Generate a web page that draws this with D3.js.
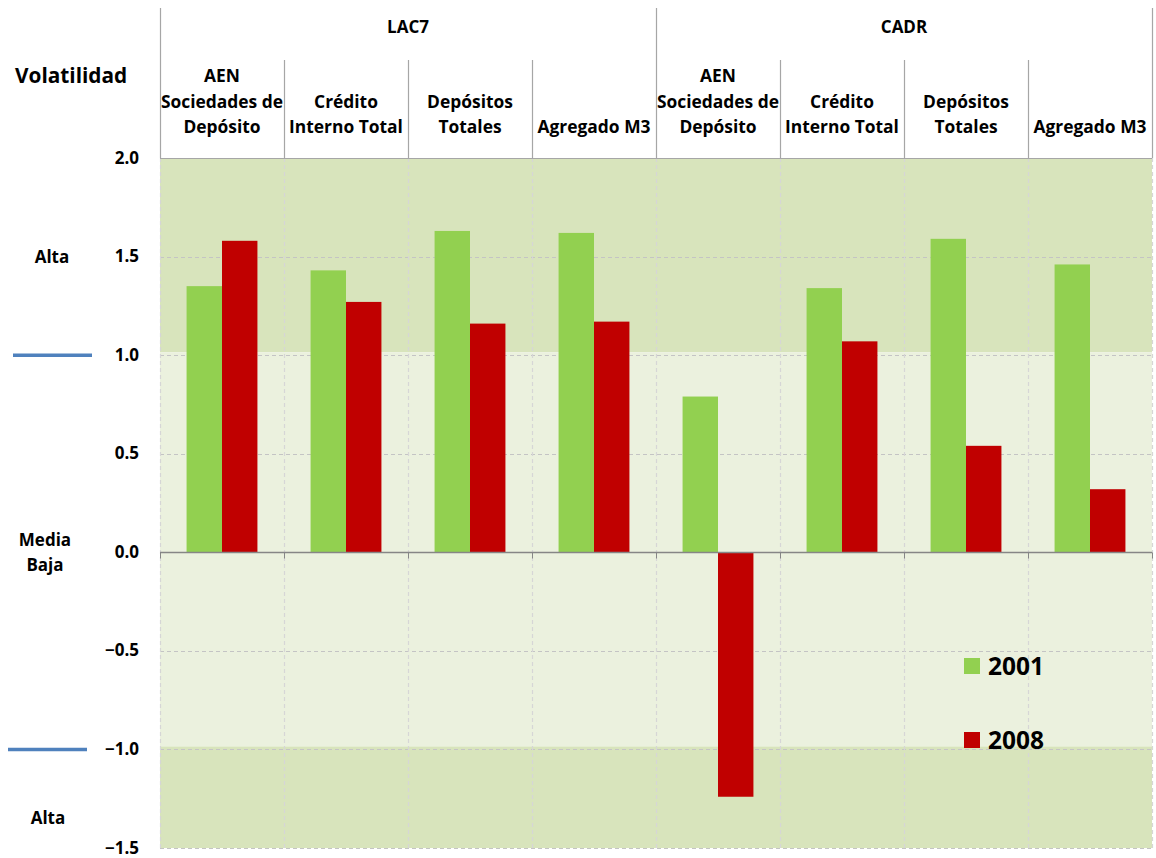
<!DOCTYPE html>
<html>
<head>
<meta charset="utf-8">
<script src="https://cdn.jsdelivr.net/npm/d3@7"></script>
<style>
  html, body { margin: 0; padding: 0; background: #fff; }
  svg { display: block; font-family: "Open Sans", Lato, sans-serif; font-weight: bold; }
</style>
</head>
<body>
<svg id="chart" width="1156" height="858"></svg>
<script>
// Category headers (lines of text) and their groups
const groups = ["LAC7", "CADR"];
const categories = [
  { group: "LAC7", lines: ["AEN", "Sociedades de", "Depósito"] },
  { group: "LAC7", lines: ["Crédito", "Interno Total"] },
  { group: "LAC7", lines: ["Depósitos", "Totales"] },
  { group: "LAC7", lines: ["Agregado M3"] },
  { group: "CADR", lines: ["AEN", "Sociedades de", "Depósito"] },
  { group: "CADR", lines: ["Crédito", "Interno Total"] },
  { group: "CADR", lines: ["Depósitos", "Totales"] },
  { group: "CADR", lines: ["Agregado M3"] }
];
const seriesNames = ["2001", "2008"];
const values2001 = [1.35, 1.43, 1.63, 1.62, 0.79, 1.34, 1.59, 1.46];
const values2008 = [1.58, 1.27, 1.16, 1.17, -1.24, 1.07, 0.54, 0.32];
const yTicks = [2.0, 1.5, 1.0, 0.5, 0.0, -0.5, -1.0, -1.5];
// Volatility zones drawn behind the bars: [from, to, kind]
const zones = [[1.015, 2.0, "alta"], [-0.985, 1.015, "media"], [-1.5, -0.985, "alta"]];
// Labels along the left side
const sideLabels = [
  { lines: ["Alta"], at: 1.5, x: 52 },
  { lines: ["Media", "Baja"], at: 0.0, x: 45 },
  { lines: ["Alta"], at: -1.35, x: 48 }
];
const sideMarkers = [{ at: 1.0, x0: 13, x1: 92 }, { at: -1.0, x0: 8, x1: 87 }];

const colors = { "2001": "#92d050", "2008": "#c00000" };
const zoneColors = { alta: "#d8e4bc", media: "#ebf1de" };

const svg = d3.select("#chart");
const plotL = 160, plotR = 1152, plotT = 158, plotB = 848;
const labelSize = 17.4;

const x = d3.scaleBand().domain(d3.range(categories.length)).range([plotL, plotR]).padding(0);
const xs = d3.scaleBand().domain(seriesNames).range([0, x.bandwidth()]).paddingInner(0).paddingOuter(0.75);
const y = d3.scaleLinear().domain([-1.5, 2.0]).range([plotB, plotT]);

// zones
svg.append("g").selectAll("rect").data(zones).join("rect")
  .attr("x", plotL).attr("width", plotR - plotL)
  .attr("y", d => y(d[1])).attr("height", d => y(d[0]) - y(d[1]))
  .attr("fill", d => zoneColors[d[2]]);

// horizontal dashed grid
svg.append("g").selectAll("line").data(yTicks.filter(v => v !== 0)).join("line")
  .attr("x1", plotL).attr("x2", plotR)
  .attr("y1", d => Math.round(y(d)) + 0.5).attr("y2", d => Math.round(y(d)) + 0.5)
  .attr("stroke", "#c4c4c4").attr("stroke-width", 1.2).attr("stroke-dasharray", "4,3");

// vertical dashed grid at category boundaries
const bounds = d3.range(categories.length + 1).map(i => i < categories.length ? x(i) : plotR);
svg.append("g").selectAll("line").data(bounds).join("line")
  .attr("x1", d => Math.round(d) + 0.5).attr("x2", d => Math.round(d) + 0.5)
  .attr("y1", plotT).attr("y2", plotB)
  .attr("stroke", "#d6d6d6").attr("stroke-width", 1.2).attr("stroke-dasharray", "4,3");

// bars
const rows = categories.map((c, i) => ({ i, v: { "2001": values2001[i], "2008": values2008[i] } }));
const barG = svg.append("g");
rows.forEach(r => {
  seriesNames.forEach(s => {
    const v = r.v[s];
    barG.append("rect")
      .attr("x", x(r.i) + xs(s))
      .attr("width", xs.bandwidth())
      .attr("y", y(Math.max(0, v)))
      .attr("height", Math.abs(y(v) - y(0)))
      .attr("fill", colors[s]);
  });
});

// zero axis line with ticks
const zy = Math.round(y(0)) + 0.5;
svg.append("line").attr("x1", plotL).attr("x2", plotR).attr("y1", zy).attr("y2", zy)
  .attr("stroke", "#868686").attr("stroke-width", 1.5);
svg.append("g").selectAll("line").data(bounds).join("line")
  .attr("x1", d => Math.round(d) + 0.5).attr("x2", d => Math.round(d) + 0.5)
  .attr("y1", zy).attr("y2", zy + 6)
  .attr("stroke", "#868686").attr("stroke-width", 1);

// y axis labels
const yAxis = d3.axisLeft(y).tickValues(yTicks).tickFormat(d3.format(".1f")).tickSize(0).tickPadding(0);
const ya = svg.append("g").attr("transform", `translate(139,0)`).call(yAxis);
ya.select(".domain").remove();
ya.selectAll("text").attr("font-size", 17).attr("font-weight", "bold")
  .attr("font-family", "'Open Sans', sans-serif").attr("fill", "#000").attr("dy", "0.3em");

// header: plot top border and separators
svg.append("line").attr("x1", plotL).attr("x2", plotR).attr("y1", plotT + 0.5).attr("y2", plotT + 0.5)
  .attr("stroke", "#a6a6a6").attr("stroke-width", 1);
svg.append("g").selectAll("line").data(bounds).join("line")
  .attr("x1", d => Math.round(d) + 0.5).attr("x2", d => Math.round(d) + 0.5)
  .attr("y1", (d, i) => (i % 4 === 0) ? 8 : 60).attr("y2", plotT)
  .attr("stroke", "#a6a6a6").attr("stroke-width", 1.2);

// group titles
groups.forEach(g => {
  const idx = categories.map((c, i) => c.group === g ? i : -1).filter(i => i >= 0);
  const cx = (x(idx[0]) + x(idx[idx.length - 1]) + x.bandwidth()) / 2;
  svg.append("text").attr("x", cx).attr("y", 33).attr("text-anchor", "middle")
    .attr("font-size", 17).text(g);
});

// category titles, bottom-aligned
categories.forEach((c, i) => {
  const cx = x(i) + x.bandwidth() / 2;
  const n = c.lines.length;
  c.lines.forEach((ln, k) => {
    svg.append("text").attr("x", cx).attr("y", 133 - (n - 1 - k) * 25.5)
      .attr("text-anchor", "middle").attr("font-size", labelSize).text(ln);
  });
});

// left title and zone labels
svg.append("text").attr("x", 15).attr("y", 83).attr("font-size", 20.8).text("Volatilidad");
sideLabels.forEach(s => {
  const n = s.lines.length;
  s.lines.forEach((ln, k) => {
    svg.append("text").attr("x", s.x).attr("y", y(s.at) + 6 + (k - (n - 1) / 2) * 25)
      .attr("text-anchor", "middle").attr("font-size", 17).text(ln);
  });
});
sideMarkers.forEach(m => {
  svg.append("line").attr("x1", m.x0).attr("x2", m.x1).attr("y1", y(m.at)).attr("y2", y(m.at))
    .attr("stroke", "#4f81bd").attr("stroke-width", 3.5);
});

// legend
const legend = svg.append("g").attr("transform", "translate(964,658)");
seriesNames.forEach((s, k) => {
  const g = legend.append("g").attr("transform", `translate(0,${k * 74})`);
  g.append("rect").attr("width", 16).attr("height", 16).attr("fill", colors[s]);
  g.append("text").attr("x", 24).attr("y", 17).attr("font-size", 24.5).text(s);
});
</script>
</body>
</html>
